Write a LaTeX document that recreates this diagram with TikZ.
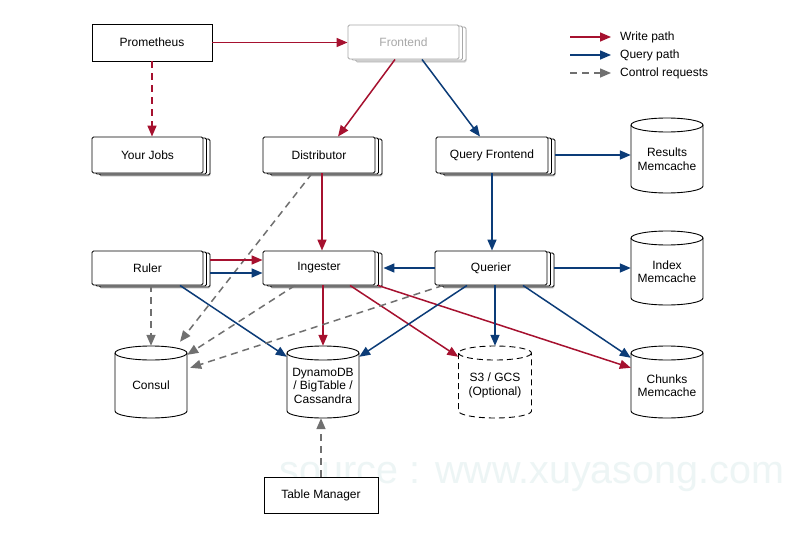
\documentclass[tikz,border=0pt]{standalone}
\usepackage{fontspec}
\setmainfont{Liberation Sans}
\usetikzlibrary{arrows.meta,calc,shadows}
\definecolor{wred}{HTML}{A6112F}
\definecolor{qblue}{HTML}{0C3C78}
\definecolor{cgray}{HTML}{707070}
\definecolor{wmark}{HTML}{EDF5F5}
\definecolor{fegray}{HTML}{A8A8A8}
\tikzset{
  lbl/.style={font=\fontsize{12}{13.5}\selectfont, align=center, text=black},
  boxst/.style={draw=black, line width=0.9pt, fill=white, inner sep=0pt, lbl},
  stkfront/.style={boxst, rounded corners=1.5pt},
  stkback/.style={draw=black, line width=0.9pt, fill=white, inner sep=0pt, rounded corners=1.5pt},
  cylline/.style={draw=black, line width=0.9pt},
  cylbox/.style={inner sep=0pt, draw=none},
  tip/.style={-{Triangle[length=11pt,width=9pt]}},
  wr/.style={tip, draw=wred, line width=1.5pt},
  qr/.style={tip, draw=qblue, line width=1.5pt},
  cr/.style={tip, draw=cgray, line width=1.5pt, dash pattern=on 7pt off 5pt},
  wrd/.style={wr, dash pattern=on 7pt off 5pt},
}
\newcommand{\stk}[7]{% name, cx, cy, w, h, text, style
  \node[stkback,#7, drop shadow={shadow xshift=0.5pt,shadow yshift=-1.5pt,opacity=0.35}, minimum width=#4, minimum height=#5] at ({#2+7},{-#3-2}) {};
  \node[stkback,#7, minimum width=#4, minimum height=#5] at ({#2+3.5},{-#3-1}) {};
  \node[stkfront,#7, minimum width=#4, minimum height=#5] (#1) at (#2,-#3) {#6};
}
\newcommand{\mycyl}[7]{% name, cx, cy, w, h, text, style
  \pgfmathsetmacro{\cyXa}{#2-#4/2}\pgfmathsetmacro{\cyXb}{#2+#4/2}
  \pgfmathsetmacro{\cyYa}{-(#3-#5/2)-7}\pgfmathsetmacro{\cyYb}{-(#3+#5/2)+7}
  \pgfmathsetmacro{\cyR}{#4/2}
  \path[cylline,#7,fill=white] (\cyXa,\cyYa) -- (\cyXa,\cyYb) arc[start angle=180,end angle=360,x radius=\cyR,y radius=7] -- (\cyXb,\cyYa) arc[start angle=0,end angle=180,x radius=\cyR,y radius=7] -- cycle;
  \draw[cylline,#7] (\cyXa,\cyYa) arc[start angle=180,end angle=360,x radius=\cyR,y radius=7];
  \node[cylbox,minimum width=#4, minimum height=#5] (#1) at (#2,-#3) {};
  \node[lbl] at (#2,{-#3-3.5}) {#6};
}
\begin{document}
\begin{tikzpicture}[x=1pt,y=1pt]
\useasboundingbox[fill=white] (0,0) rectangle (806,-538);
% watermark
\node[font=\fontsize{39.5}{42}\selectfont, text=wmark, anchor=base, inner sep=0pt] (wm) at (532,-483) {source : www.xuyasong.com};

% boxes
\node[boxst, minimum width=120, minimum height=37] (prom) at (152,-42.5) {Prometheus};
\stk{fe}{403.5}{42}{111}{34}{Frontend}{draw=fegray,text=fegray}
\stk{jobs}{147.5}{155}{111}{36}{Your Jobs}{}
\stk{dist}{319}{155}{112}{36}{Distributor}{}
\stk{qf}{492}{155}{112}{36}{Query Frontend}{}
\stk{ruler}{147.5}{268}{111}{34}{Ruler}{}
\stk{ing}{319}{268}{112}{34}{Ingester}{}
\stk{qrr}{491}{268}{112}{34}{Querier}{}
\node[boxst, minimum width=114, minimum height=36] (tm) at (321,-495) {Table Manager};

% cylinders
\mycyl{res}{667}{155.5}{72}{75}{Results\\Memcache}{}
\mycyl{idx}{667}{268}{72}{74}{Index\\Memcache}{}
\mycyl{chk}{667}{382}{72}{72}{Chunks\\Memcache}{}
\mycyl{consul}{151}{382}{72}{72}{Consul}{}
\mycyl{dyn}{323}{382}{72}{72}{DynamoDB\\/ BigTable /\\Cassandra}{}
\mycyl{s3}{495}{382}{73}{72}{S3 / GCS\\(Optional)}{dash pattern=on 6pt off 4pt}

% connectors
\draw[wr] (prom.east) -- (prom.east -| fe.west);
\draw[wrd] (prom.south) -- (prom.south |- jobs.north);
\draw[wr] ([xshift=-8.5]fe.south) -- ([xshift=19]dist.north);
\draw[qr] ([xshift=18.5]fe.south) -- ([xshift=-12]qf.north);
\draw[qr] ([xshift=7]qf.east) -- (res.west |- qf.east);
\draw[qr] (qf.south) -- (qf.south |- qrr.north);
\draw[wr] ([xshift=3]dist.south) -- ([xshift=3]ing.north);
\draw[cr] ([xshift=-7]dist.south) -- ([xshift=29,yshift=4]consul.north);
\draw[wr] ([xshift=7,yshift=8]ruler.east) -- ([yshift=8]ing.west);
\draw[qr] ([xshift=7,yshift=-5]ruler.east) -- ([yshift=-5]ing.west);
\draw[cr] ([xshift=3.5]ruler.south) -- (consul.north);
\draw[qr] ([xshift=32.5]ruler.south) -- ([yshift=-11]dyn.north west);
\draw[cr] ([xshift=-24]ing.south) -- ([yshift=-9]consul.north east);
\draw[wr] (ing.south -| dyn.north) -- (dyn.north);
\draw[wr] ([xshift=31]ing.south) -- ([yshift=-11]s3.north west);
\draw[wr] ([xshift=59]ing.south) -- ([yshift=-22]chk.north west);
\draw[qr] (qrr.west) -- ([xshift=8]ing.east);
\draw[cr] ([xshift=-48]qrr.south) -- ([xshift=3,yshift=-22]consul.north east);
\draw[qr] ([xshift=-24]qrr.south) -- ([yshift=-11]dyn.north east);
\draw[qr] ([xshift=4]qrr.south) -- (s3.north);
\draw[qr] ([xshift=32]qrr.south) -- ([yshift=-12]chk.north west);
\draw[qr] ([xshift=7]qrr.east) -- (idx.west |- qrr.east);
\draw[cr] (tm.north) -- (tm.north |- dyn.south);

% legend
\coordinate (l1a) at (570,-37); \coordinate (l1b) at (611,-37);
\coordinate (l2a) at (570,-55); \coordinate (l2b) at (611,-55);
\coordinate (l3a) at (570,-73); \coordinate (l3b) at (611,-73);
\draw[wr] (l1a) -- (l1b);
\draw[qr] (l2a) -- (l2b);
\draw[cr] (l3a) -- (l3b);
\node[lbl, anchor=west, inner sep=0pt] (t1) at (620,-37) {Write path};
\node[lbl, anchor=west, inner sep=0pt] (t2) at (620,-55) {Query path};
\node[lbl, anchor=west, inner sep=0pt] (t3) at (620,-73) {Control requests};
\end{tikzpicture}
\end{document}
